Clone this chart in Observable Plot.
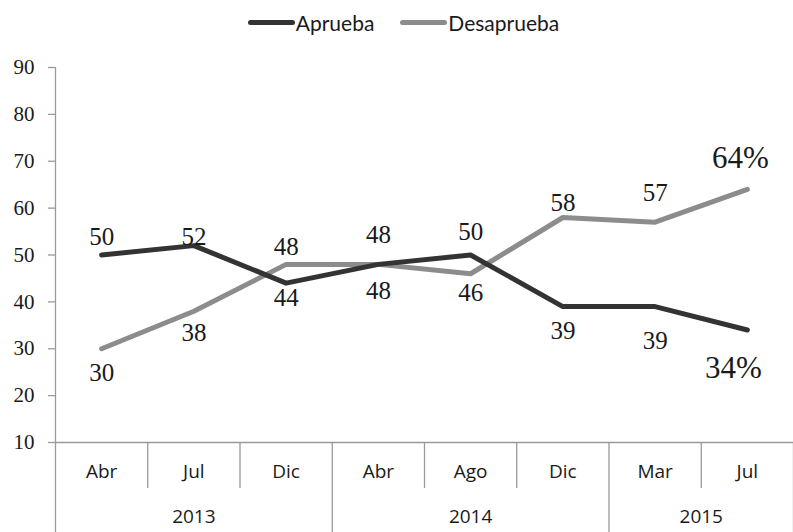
<!DOCTYPE html>
<html><head><meta charset="utf-8">
<script src="https://cdn.jsdelivr.net/npm/d3@7"></script>
<script src="https://cdn.jsdelivr.net/npm/@observablehq/plot@0.6"></script>
<style>
body{margin:0;background:#fff;}
#legend{height:45px;display:flex;justify-content:center;align-items:center;font-family:Lato,sans-serif;font-size:21px;color:#1a1a1a;padding-left:14px;}
.item{display:flex;align-items:center;margin:0 13px;}
.sw{display:inline-block;width:47px;height:5px;border-radius:3px;margin-right:1px;}
</style></head><body>
<div id="legend"></div>
<div id="chart"></div>
<script>
const months = ["Abr","Jul","Dic","Abr","Ago","Dic","Mar","Jul"];
const years = ["2013","2013","2013","2014","2014","2014","2015","2015"];
const aprueba = [50,52,44,48,50,39,39,34];
const desaprueba = [30,38,48,48,46,58,57,64];
const aprLabels = ["50","52","44","48","50","39","39","34%"];
const desLabels = ["30","38","48","48","46","58","57","64%"];
const yTicks = [10,20,30,40,50,60,70,80,90];
const seriesNames = ["Aprueba","Desaprueba"];
const seriesColors = ["#333333","#8c8c8c"];
// label offsets (style): vertical offset of each value label from its point
const aprLabelDy = [-18,-9,15,-29,-23,24,34,38];
const desLabelDy = [24,22,-17,27,19,-15,-29,-31];

// legend
const leg = document.getElementById("legend");
seriesNames.forEach((n,k)=>{
  const it = document.createElement("span"); it.className="item";
  const sw = document.createElement("span"); sw.className="sw"; sw.style.background=seriesColors[k];
  it.appendChild(sw); it.appendChild(document.createTextNode(n)); leg.appendChild(it);
});

const idx = months.map((_,i)=>i);
// year groups
const groups = [];
years.forEach((y,i)=>{
  if (!groups.length || groups[groups.length-1].year!==y) groups.push({year:y,start:i,end:i});
  else groups[groups.length-1].end=i;
});
const monthSeps = idx.slice(0,-1).filter(i=>years[i]===years[i+1]).map(i=>i+0.5);
const yearSeps = groups.map(g=>g.start-0.5).concat([groups[groups.length-1].end+0.5]);
const y0 = yTicks[0], y1 = yTicks[yTicks.length-1];

const labelFont = "'Liberation Serif', 'Times New Roman', serif";
const marks = [
  Plot.ruleY([y0], {x1: -0.5, x2: idx.length-0.5, stroke:"#9a9a9a", strokeWidth:1.3}),
  Plot.ruleX([-0.5], {y1: y1, y2: y0, insetBottom: -90, stroke:"#9a9a9a", strokeWidth:1.3}),
  Plot.ruleX(monthSeps, {y1: y0, y2: y0, insetBottom: -46, stroke:"#9a9a9a", strokeWidth:1.3}),
  Plot.ruleX(yearSeps.slice(1), {y1: y0, y2: y0, insetBottom: -90, stroke:"#9a9a9a", strokeWidth:1.3}),
  Plot.ruleY(yTicks, {y: d=>d, x1: -0.5, x2: -0.5, insetLeft: -7, stroke:"#9a9a9a", strokeWidth:1.3}),
  Plot.text(yTicks, {y: d=>d, frameAnchor: "left", textAnchor: "end", dx: -21, text: d=>String(d), fontSize: 21, fontFamily: labelFont, fill:"#1a1a1a"}),
  Plot.text(idx, {x: i=>i, y: y0, text: i=>months[i], dy: 29, fontSize: 19, fontFamily:"Open Sans", fill:"#1a1a1a"}),
  Plot.text(groups, {x: g=>(g.start+g.end)/2, y: y0, text: g=>g.year, dy: 74, fontSize: 19, fontFamily:"Open Sans", fill:"#1a1a1a"}),
  Plot.line(idx, {x: i=>i, y: i=>desaprueba[i], stroke: seriesColors[1], strokeWidth: 5}),
  Plot.line(idx, {x: i=>i, y: i=>aprueba[i], stroke: seriesColors[0], strokeWidth: 5}),
];
idx.forEach(i=>{
  const last = i===idx.length-1;
  marks.push(Plot.text([i], {x: d=>d, y: d=>aprueba[d], text: d=>aprLabels[d], dy: aprLabelDy[i], dx: last?-14:0, fontSize: last?31:25, fontFamily: labelFont, fill:"#1a1a1a"}));
  marks.push(Plot.text([i], {x: d=>d, y: d=>desaprueba[d], text: d=>desLabels[d], dy: desLabelDy[i], dx: last?-7:0, fontSize: last?31:25, fontFamily: labelFont, fill:"#1a1a1a"}));
});

const chart = Plot.plot({
  width: 793, height: 487,
  marginTop: 22, marginBottom: 90, marginLeft: 55, marginRight: 0,
  x: {domain: [-0.5, idx.length-0.5], axis: null},
  y: {domain: [y0, y1], axis: null},
  style: {background: "#fff", overflow: "visible"},
  marks
});
document.getElementById("chart").appendChild(chart);
</script>
</body></html>
